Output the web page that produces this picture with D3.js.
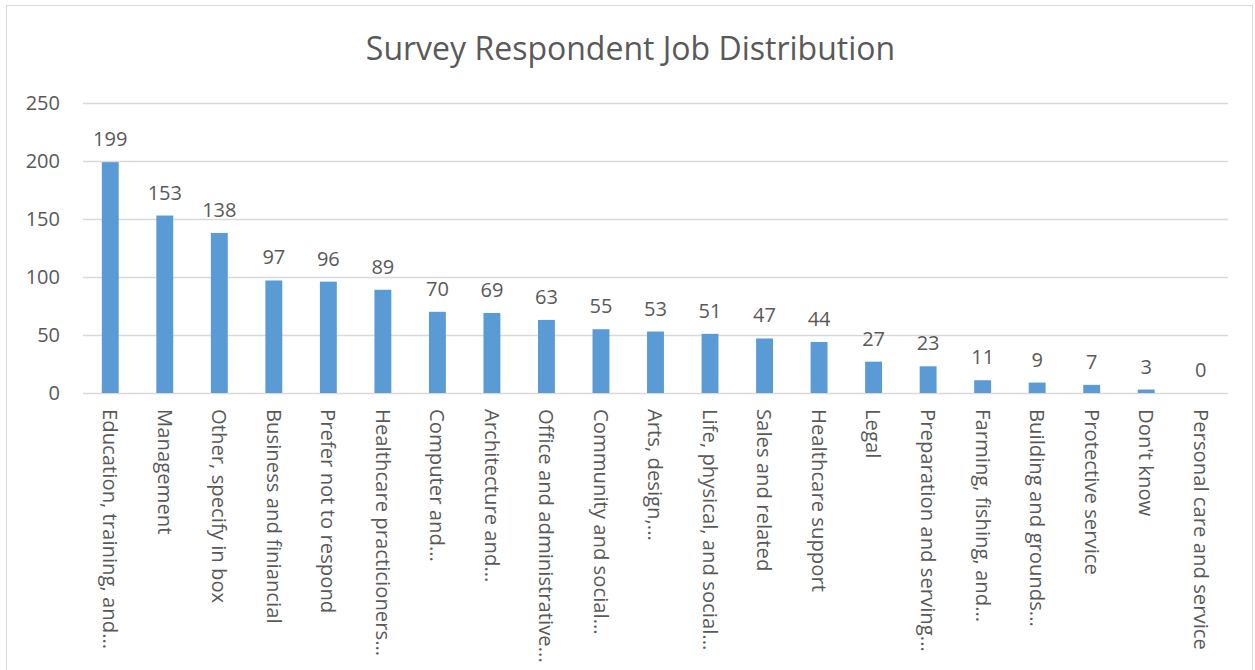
<!DOCTYPE html>
<html>
<head>
<meta charset="UTF-8">
<title>Survey Respondent Job Distribution</title>
<script src="https://d3js.org/d3.v7.min.js"></script>
<style>
  body { margin: 0; background: #fff; }
  svg { display: block; font-family: "Open Sans", sans-serif; }
</style>
</head>
<body>
<svg id="chart" width="1255" height="670"></svg>
<script>
const categories = [
  "Education, training, and...", "Management", "Other, specify in box",
  "Business and finiancial", "Prefer not to respond", "Healthcare practicioners...",
  "Computer and...", "Architecture and...", "Office and administrative...",
  "Community and social...", "Arts, design,...", "Life, physical, and social...",
  "Sales and related", "Healthcare support", "Legal", "Preparation and serving...",
  "Farming, fishing, and...", "Building and grounds...", "Protective service",
  "Don't know", "Personal care and service"
];
const counts = [199, 153, 138, 97, 96, 89, 70, 69, 63, 55, 53, 51, 47, 44, 27, 23, 11, 9, 7, 3, 0];
const yTicks = [0, 50, 100, 150, 200, 250];

const W = 1255, H = 670;
const m = { left: 83, right: 27, top: 103, bottom: 277 };
const svg = d3.select("#chart");
const textColor = "#595959";

// frame
svg.append("rect")
  .attr("x", 6.5).attr("y", 5.5)
  .attr("width", W - 9).attr("height", H - 4)
  .attr("fill", "none").attr("stroke", "#d9d9d9");

const x = d3.scaleBand()
  .domain(categories)
  .range([m.left, W - m.right])
  .paddingInner(0.69).paddingOuter(0.345);

const y = d3.scaleLinear()
  .domain([0, 250])
  .range([H - m.bottom, m.top]);

// gridlines
svg.append("g")
  .selectAll("line")
  .data(yTicks)
  .join("line")
  .attr("x1", m.left).attr("x2", W - m.right)
  .attr("y1", d => y(d) + 0.5).attr("y2", d => y(d) + 0.5)
  .attr("stroke", "#d9d9d9").attr("stroke-width", 1.3);

// y axis labels
const yAxis = d3.axisLeft(y).tickValues(yTicks).tickSize(0).tickPadding(23);
svg.append("g")
  .attr("transform", `translate(${m.left},0)`)
  .call(yAxis)
  .call(g => g.select(".domain").remove())
  .call(g => g.selectAll("text")
    .attr("fill", textColor)
    .style("font-size", "20px")
    .style("font-family", "'Open Sans', sans-serif"));

// bars
svg.append("g")
  .selectAll("rect")
  .data(categories)
  .join("rect")
  .attr("x", d => x(d))
  .attr("width", x.bandwidth())
  .attr("y", (d, i) => y(counts[i]))
  .attr("height", (d, i) => y(0) - y(counts[i]))
  .attr("fill", "#5b9bd5");

// value labels
svg.append("g")
  .selectAll("text")
  .data(categories)
  .join("text")
  .attr("x", d => x(d) + x.bandwidth() / 2)
  .attr("y", (d, i) => y(counts[i]) - 16)
  .attr("text-anchor", "middle")
  .attr("fill", textColor)
  .style("font-size", "20px")
  .text((d, i) => counts[i]);

// x labels, rotated
const xAxis = d3.axisBottom(x).tickSize(0).tickPadding(0);
svg.append("g")
  .attr("transform", `translate(0,${y(0)})`)
  .call(xAxis)
  .call(g => g.select(".domain").remove())
  .call(g => g.selectAll("text")
    .attr("fill", textColor)
    .style("font-size", "20.3px")
    .style("font-family", "'Open Sans', sans-serif")
    .attr("text-anchor", "start")
    .attr("dy", "0.35em")
    .attr("transform", "translate(0,16) rotate(90)"));

// title
svg.append("text")
  .attr("x", (m.left + W - m.right) / 2 - 25)
  .attr("y", 60)
  .attr("text-anchor", "middle")
  .attr("fill", textColor)
  .style("font-size", "32px")
  .text("Survey Respondent Job Distribution");
</script>
</body>
</html>
